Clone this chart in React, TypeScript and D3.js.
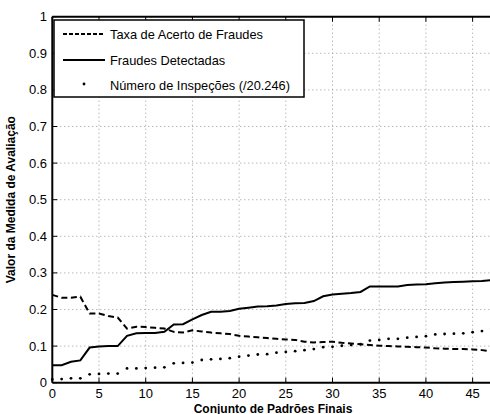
import React from "react";
import * as d3 from "d3";

const xValues = d3.range(0, 48);
const taxaAcerto = [0.240, 0.232, 0.232, 0.235, 0.189, 0.189, 0.182, 0.178, 0.148, 0.153, 0.152, 0.150, 0.148, 0.139, 0.137, 0.143, 0.140, 0.137, 0.135, 0.133, 0.128, 0.126, 0.124, 0.122, 0.120, 0.118, 0.117, 0.112, 0.110, 0.111, 0.112, 0.109, 0.107, 0.105, 0.103, 0.101, 0.100, 0.099, 0.098, 0.097, 0.096, 0.094, 0.093, 0.092, 0.092, 0.091, 0.089, 0.086];
const fraudesDetectadas = [0.048, 0.048, 0.057, 0.061, 0.096, 0.099, 0.100, 0.100, 0.128, 0.135, 0.136, 0.136, 0.139, 0.159, 0.160, 0.173, 0.185, 0.194, 0.194, 0.196, 0.202, 0.205, 0.208, 0.209, 0.211, 0.215, 0.217, 0.218, 0.223, 0.236, 0.241, 0.243, 0.245, 0.248, 0.263, 0.263, 0.263, 0.263, 0.267, 0.268, 0.269, 0.272, 0.274, 0.275, 0.276, 0.277, 0.278, 0.280];
const numeroInspecoes = [0.009, 0.010, 0.012, 0.012, 0.023, 0.024, 0.025, 0.025, 0.039, 0.039, 0.040, 0.041, 0.042, 0.053, 0.054, 0.055, 0.062, 0.064, 0.065, 0.067, 0.071, 0.074, 0.077, 0.078, 0.082, 0.084, 0.086, 0.089, 0.092, 0.097, 0.098, 0.101, 0.103, 0.105, 0.115, 0.117, 0.120, 0.120, 0.123, 0.125, 0.127, 0.132, 0.133, 0.134, 0.135, 0.138, 0.141, 0.147];
const xTicks = [0, 5, 10, 15, 20, 25, 30, 35, 40, 45];
const yTicks = [0, 0.1, 0.2, 0.3, 0.4, 0.5, 0.6, 0.7, 0.8, 0.9, 1];
const legendLabels = ["Taxa de Acerto de Fraudes", "Fraudes Detectadas", "Número de Inspeções (/20.246)"];
const xTitle = "Conjunto de Padrões Finais";
const yTitle = "Valor da Medida de Avaliação";

export default function App() {
  const W = 490, H = 414;
  const left = 52.3, right = 491.3, top = 16.7, bottom = 382.7;
  const x = d3.scaleLinear().domain([0, 47]).range([left, right]);
  const y = d3.scaleLinear().domain([0, 1]).range([bottom, top]);
  const line = (vals: number[]) =>
    d3.line<number>().x((_, i) => x(xValues[i])).y((v) => y(v))(vals) || "";
  const font = "Liberation Sans, Arial, Helvetica, sans-serif";
  const tick = 5;
  return (
    <svg width={W} height={H} style={{ position: "absolute", left: 0, top: 0, background: "#fff" }} fontFamily={font}>
      <rect x={0} y={0} width={W} height={H} fill="#fff" />
      {/* grid */}
      {xTicks.filter((t) => t > 0).map((t) => (
        <line key={"gx" + t} x1={x(t)} x2={x(t)} y1={top} y2={bottom} stroke="#999" strokeWidth={1} strokeDasharray="1,3" />
      ))}
      {yTicks.filter((t) => t > 0 && t < 1).map((t) => (
        <line key={"gy" + t} x1={left} x2={right} y1={y(t)} y2={y(t)} stroke="#999" strokeWidth={1} strokeDasharray="1,3" />
      ))}
      {/* ticks */}
      {xTicks.map((t) => (
        <g key={"tx" + t}>
          <line x1={x(t)} x2={x(t)} y1={bottom} y2={bottom - tick} stroke="#000" strokeWidth={1} />
          <line x1={x(t)} x2={x(t)} y1={top} y2={top + tick} stroke="#000" strokeWidth={1} />
          <text x={x(t)} y={398} textAnchor="middle" fontSize={13} fill="#000">{t}</text>
        </g>
      ))}
      {yTicks.map((t) => (
        <g key={"ty" + t}>
          <line x1={left} x2={left + tick} y1={y(t)} y2={y(t)} stroke="#000" strokeWidth={1} />
          <text x={47} y={y(t) + 4.5} textAnchor="end" fontSize={13} fill="#000">{d3.format("~g")(t)}</text>
        </g>
      ))}
      {/* series */}
      <path d={line(taxaAcerto)} fill="none" stroke="#000" strokeWidth={2} strokeDasharray="6,3.5" />
      <path d={line(fraudesDetectadas)} fill="none" stroke="#000" strokeWidth={2} />
      {numeroInspecoes.map((v, i) => (
        <circle key={"d" + i} cx={x(xValues[i])} cy={y(v)} r={1.4} fill="#000" />
      ))}
      {/* axes frame */}
      <line x1={left} x2={right} y1={bottom} y2={bottom} stroke="#000" strokeWidth={2} />
      <line x1={left} x2={right} y1={top} y2={top} stroke="#000" strokeWidth={2} />
      <line x1={left} x2={left} y1={top} y2={bottom} stroke="#000" strokeWidth={2} />
      {/* legend */}
      <rect x={54} y={20} width={250} height={77} fill="#fff" stroke="#000" strokeWidth={1.5} />
      <line x1={63} x2={105} y1={34} y2={34} stroke="#000" strokeWidth={2} strokeDasharray="4,2" />
      <text x={110} y={38.5} fontSize={12.8} fill="#000">{legendLabels[0]}</text>
      <line x1={63} x2={105} y1={60} y2={60} stroke="#000" strokeWidth={2} />
      <text x={110} y={64.5} fontSize={12.8} fill="#000">{legendLabels[1]}</text>
      <circle cx={84} cy={84} r={1.4} fill="#000" />
      <text x={110} y={89.5} fontSize={12.8} fill="#000">{legendLabels[2]}</text>
      {/* titles */}
      <text x={273} y={412.5} textAnchor="middle" fontSize={12} fontWeight="bold" fill="#000">{xTitle}</text>
      <text transform={`translate(15,${(top + bottom) / 2}) rotate(-90)`} textAnchor="middle" fontSize={12} fontWeight="bold" fill="#000">{yTitle}</text>
    </svg>
  );
}
